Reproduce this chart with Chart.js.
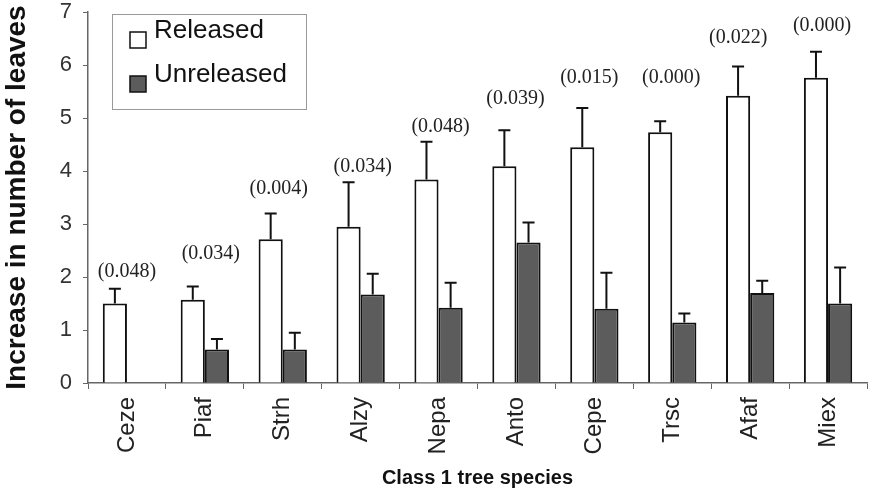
<!DOCTYPE html>
<html>
<head>
<meta charset="utf-8">
<script src="https://cdn.jsdelivr.net/npm/chart.js@4/dist/chart.umd.min.js"></script>
<style>
  html, body { margin: 0; padding: 0; background: #fff; }
  canvas { display: block; }
</style>
</head>
<body>
<canvas id="leafChart" width="875" height="490"></canvas>
<script>
// Species codes and mean increase in leaf number (with SE) for each treatment
var species = ['Ceze', 'Piaf', 'Strh', 'Alzy', 'Nepa', 'Anto', 'Cepe', 'Trsc', 'Afaf', 'Miex'];
var released = [1.50, 1.57, 2.71, 2.95, 3.84, 4.09, 4.45, 4.73, 5.42, 5.76];
var releasedErr = [0.28, 0.25, 0.49, 0.84, 0.71, 0.68, 0.74, 0.21, 0.55, 0.49];
var unreleased = [0, 0.63, 0.63, 1.67, 1.42, 2.65, 1.40, 1.14, 1.70, 1.50];
var unreleasedErr = [0, 0.20, 0.32, 0.39, 0.47, 0.38, 0.68, 0.17, 0.23, 0.68];
var pValues = ['(0.048)', '(0.034)', '(0.004)', '(0.034)', '(0.048)', '(0.039)', '(0.015)', '(0.000)', '(0.022)', '(0.000)'];
var yTicks = [0, 1, 2, 3, 4, 5, 6, 7];

var SANS = '"Liberation Sans", Arial, sans-serif';

// upward-only error bars on top of each bar
var errorBars = {
	id: 'errorBars',
	afterDatasetsDraw: function (chart) {
		var ctx = chart.ctx;
		var y = chart.scales.y;
		ctx.save();
		ctx.strokeStyle = '#111';
		ctx.lineWidth = 2;
		chart.data.datasets.forEach(function (ds, i) {
			var meta = chart.getDatasetMeta(i);
			meta.data.forEach(function (bar, j) {
				var err = ds.errors[j];
				if (!err) return;
				var top = y.getPixelForValue(ds.data[j] + err);
				ctx.beginPath();
				ctx.moveTo(bar.x, bar.y);
				ctx.lineTo(bar.x, top);
				ctx.moveTo(bar.x - 6, top);
				ctx.lineTo(bar.x + 6, top);
				ctx.stroke();
			});
		});
		ctx.restore();
	}
};

// p-value text over each species pair
var pLabels = {
	id: 'pLabels',
	afterDatasetsDraw: function (chart, args, opts) {
		var ctx = chart.ctx;
		var x = chart.scales.x;
		var y = chart.scales.y;
		ctx.save();
		ctx.font = '20px "Liberation Serif", "Times New Roman", serif';
		ctx.fillStyle = '#222';
		ctx.textAlign = 'center';
		ctx.textBaseline = 'middle';
		pValues.forEach(function (txt, j) {
			var cap = y.getPixelForValue(released[j] + releasedErr[j]);
			ctx.fillText(txt, x.getPixelForValue(j) + opts.shift[j], cap - opts.lift[j]);
		});
		ctx.restore();
	}
};

// boxed legend in the upper left of the plot
var boxLegend = {
	id: 'boxLegend',
	afterDraw: function (chart) {
		var ctx = chart.ctx;
		var left = chart.chartArea.left + 24;
		var top = chart.chartArea.top + 2;
		ctx.save();
		ctx.strokeStyle = '#999';
		ctx.lineWidth = 1;
		ctx.strokeRect(left + 0.5, top + 0.5, 194, 95);
		ctx.font = '26px ' + SANS;
		ctx.textBaseline = 'middle';
		ctx.textAlign = 'left';
		chart.data.datasets.forEach(function (ds, i) {
			var cy = top + 17 + i * 44;
			ctx.fillStyle = ds.backgroundColor;
			ctx.fillRect(left + 18, cy + 1, 16, 16);
			ctx.strokeStyle = '#111';
			ctx.lineWidth = 1.5;
			ctx.strokeRect(left + 18, cy + 1, 16, 16);
			ctx.fillStyle = '#111';
			ctx.fillText(ds.label, left + 42, cy);
		});
		ctx.restore();
	}
};

var ctxLeaf = document.getElementById('leafChart').getContext('2d');
var leafChart = new Chart(ctxLeaf, {
	type: 'bar',
	data: {
		labels: species,
		datasets: [{
			label: 'Released',
			data: released,
			errors: releasedErr,
			backgroundColor: '#ffffff',
			borderColor: '#111',
			borderWidth: 2,
			barPercentage: 1,
			categoryPercentage: 0.62
		}, {
			label: 'Unreleased',
			data: unreleased,
			errors: unreleasedErr,
			backgroundColor: '#5c5c5c',
			borderColor: '#111',
			borderWidth: 2,
			barPercentage: 1,
			categoryPercentage: 0.62
		}]
	},
	options: {
		responsive: false,
		animation: false,
		layout: { padding: { top: 12, right: 8, left: 0, bottom: 0 } },
		plugins: {
			legend: { display: false },
			tooltip: { enabled: false },
			pLabels: {
				lift: [17, 33, 25, 15, 15, 31, 30, 43, 29, 26],
				shift: [0, 6, -4, 2, 2, -1, -5, -1, -12, -6]
			}
		},
		scales: {
			x: {
				offset: true,
				grid: { offset: true, drawOnChartArea: false, tickLength: 6, color: '#666' },
				border: { color: '#666', width: 1.5 },
				ticks: {
					minRotation: 90,
					maxRotation: 90,
					padding: 8,
					color: '#222',
					font: { family: SANS, size: 24 }
				},
				title: {
					display: true,
					text: 'Class 1 tree species',
					color: '#111',
					padding: { top: 0, bottom: 0 },
					font: { family: SANS, size: 20, weight: 'bold' }
				},
				afterFit: function (s) { s.height = 107; s.paddingLeft = 0; s.paddingRight = 0; }
			},
			y: {
				min: 0,
				max: 7,
				afterBuildTicks: function (s) { s.ticks = yTicks.map(function (v) { return { value: v }; }); },
				grid: { drawOnChartArea: false, tickLength: 5, color: '#666' },
				border: { color: '#666', width: 1.5 },
				ticks: {
					padding: 11,
					color: '#333',
					font: { family: SANS, size: 22 }
				},
				title: {
					display: true,
					text: 'Increase in number of leaves',
					color: '#111',
					padding: { top: 0, bottom: 0 },
					font: { family: SANS, size: 28, weight: 'bold' }
				},
				afterFit: function (s) { s.width = 88; s.paddingTop = 0; s.paddingBottom = 0; }
			}
		}
	},
	plugins: [errorBars, pLabels, boxLegend]
});
</script>
</body>
</html>
